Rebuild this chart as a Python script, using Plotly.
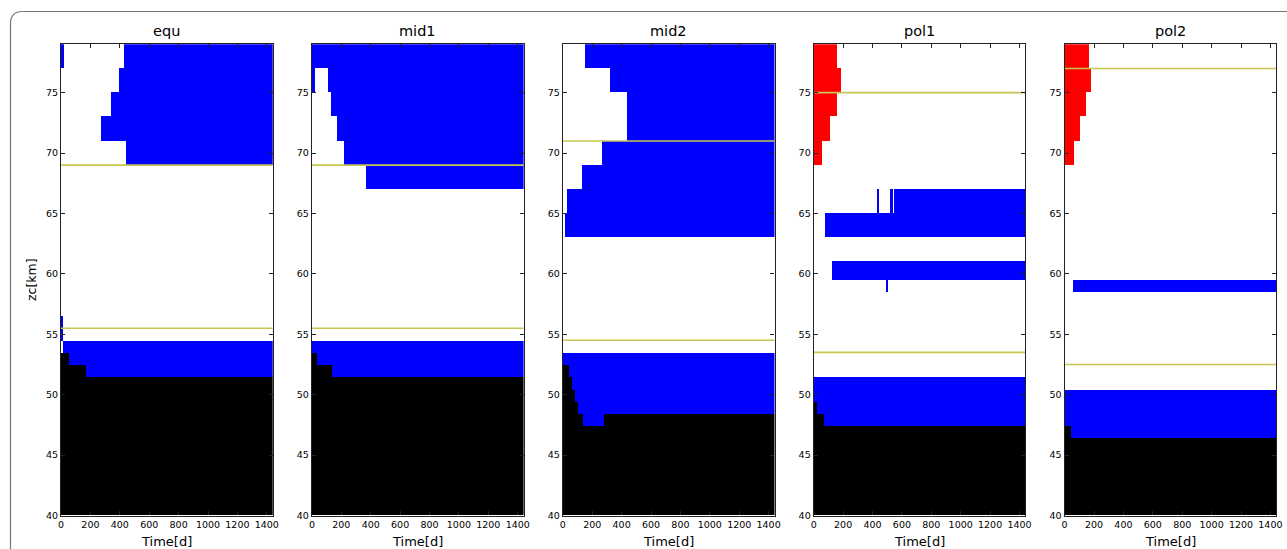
import plotly.graph_objects as go

W, H = 1287, 549

panel_names = ["equ", "mid1", "mid2", "pol1", "pol2"]

# Segments: (zc_bottom [km], zc_top [km], t_start [d], t_end [d])
equ_blue = [(77, 79, 0, 20), (77, 79, 430, 1440), (75, 77, 397, 1440), (73, 75, 342, 1440),
            (71, 73, 272, 1440), (69, 71, 442, 1440), (54.4, 56.5, 0, 13),
            (53.4, 54.4, 13, 1440), (52.4, 53.4, 52, 1440), (51.4, 52.4, 170, 1440)]
equ_black = [(40, 51.4, 0, 1440), (51.4, 52.4, 0, 170), (52.4, 53.4, 0, 52)]
equ_red = []
equ_lines = [69.0, 55.5]

mid1_blue = [(77, 79, 0, 1440), (75, 77, 0, 23), (75, 77, 112, 1440), (73, 75, 130, 1440),
             (71, 73, 167, 1440), (69, 71, 221, 1440), (67, 69, 365, 1440),
             (53.4, 54.4, 0, 1440), (52.4, 53.4, 34, 1440), (51.4, 52.4, 139, 1440)]
mid1_black = [(40, 51.4, 0, 1440), (51.4, 52.4, 0, 139), (52.4, 53.4, 0, 34)]
mid1_red = []
mid1_lines = [69.0, 55.5]

mid2_blue = [(77, 79, 148, 1440), (75, 77, 319, 1440), (71, 75, 435, 1440), (69, 71, 264, 1440),
             (67, 69, 128, 1440), (65, 67, 25, 1440), (63, 65, 12, 1440),
             (52.4, 53.4, 0, 1440), (51.4, 52.4, 39, 1440), (50.4, 51.4, 60, 1440),
             (49.4, 50.4, 80, 1440), (48.4, 49.4, 101, 1440), (47.4, 48.4, 134, 278)]
mid2_black = [(40, 47.4, 0, 1440), (47.4, 48.4, 0, 134), (47.4, 48.4, 278, 1440),
              (48.4, 49.4, 0, 101), (49.4, 50.4, 0, 80), (50.4, 51.4, 0, 60),
              (51.4, 52.4, 0, 39)]
mid2_red = []
mid2_lines = [71.0, 54.5]

pol1_red = [(77, 79, 0, 157), (75, 77, 0, 184), (73, 75, 0, 157), (71, 73, 0, 109), (69, 71, 0, 55)]
pol1_blue = [(65, 67, 430, 437), (65, 67, 519, 535), (65, 67, 545, 1440), (63, 65, 75, 1440),
             (59.45, 61, 123, 1440), (58.45, 59.45, 491, 498),
             (49.4, 51.4, 0, 1440), (48.4, 49.4, 20, 1440), (47.4, 48.4, 68, 1440)]
pol1_black = [(40, 47.4, 0, 1440), (47.4, 48.4, 0, 68), (48.4, 49.4, 0, 20)]
pol1_lines = [75.0, 53.5]

pol2_red = [(77, 79, 0, 166), (75, 77, 0, 180), (73, 75, 0, 146), (71, 73, 0, 105), (69, 71, 0, 64)]
pol2_blue = [(58.45, 59.45, 57, 1440), (47.4, 50.4, 0, 1440), (46.4, 47.4, 43, 1440)]
pol2_black = [(40, 46.4, 0, 1440), (46.4, 47.4, 0, 43)]
pol2_lines = [77.0, 52.5]

panel_data = [
    (equ_blue, equ_black, equ_red, equ_lines),
    (mid1_blue, mid1_black, mid1_red, mid1_lines),
    (mid2_blue, mid2_black, mid2_red, mid2_lines),
    (pol1_blue, pol1_black, pol1_red, pol1_lines),
    (pol2_blue, pol2_black, pol2_red, pol2_lines),
]

x_ticks = [0, 200, 400, 600, 800, 1000, 1200, 1400]
y_ticks = [40, 45, 50, 55, 60, 65, 70, 75]
x_range = [0, 1440]
y_range = [40, 79]

# layout geometry (pixels)
left0, step, pw = 61.0, 250.9, 211.7
top_px, bot_px = 44.3, 515.5

fig = go.Figure()


def seg_bar(segs, color, xa, ya):
    return go.Bar(
        orientation="h",
        y=[(s[0] + s[1]) / 2 for s in segs],
        x=[s[3] - s[2] for s in segs],
        base=[s[2] for s in segs],
        width=[s[1] - s[0] for s in segs],
        marker=dict(color=color, line=dict(width=0)),
        xaxis=xa, yaxis=ya, showlegend=False, hoverinfo="skip",
    )


annotations = []
for i, (name, (blue, black, red, lines)) in enumerate(zip(panel_names, panel_data)):
    k = "" if i == 0 else str(i + 1)
    xa, ya = "x" + k, "y" + k
    for segs, col in ((black, "#000000"), (blue, "#0000ff"), (red, "#ff0000")):
        if segs:
            fig.add_trace(seg_bar(segs, col, xa, ya))
    for lv in lines:
        fig.add_trace(go.Scatter(x=x_range, y=[lv, lv], mode="lines",
                                 line=dict(color="#c6c650", width=1.6),
                                 xaxis=xa, yaxis=ya, showlegend=False, hoverinfo="skip"))
    x0 = left0 + i * step
    dom = [x0 / W, (x0 + pw) / W]
    axis_common = dict(showline=True, linecolor="#222222", linewidth=1.2, mirror="ticks",
                       ticks="inside", ticklen=4, tickcolor="#222222", tickwidth=1,
                       showgrid=False, zeroline=False, automargin=False,
                       tickfont=dict(family="DejaVu Sans", size=9.5, color="black"))
    fig.update_layout(**{
        "xaxis" + k: dict(domain=dom, range=x_range, tickvals=x_ticks, anchor=ya, **axis_common),
        "yaxis" + k: dict(domain=[1 - bot_px / H, 1 - top_px / H], range=y_range,
                          tickvals=y_ticks, anchor=xa, **axis_common),
    })
    cx = (dom[0] + dom[1]) / 2
    annotations.append(dict(text=name, x=cx, y=1 - 31 / H, xref="paper", yref="paper",
                            xanchor="center", yanchor="middle", showarrow=False,
                            font=dict(family="DejaVu Sans", size=14.5, color="black")))
    annotations.append(dict(text="Time[d]", x=cx, y=1 - 541 / H, xref="paper", yref="paper",
                            xanchor="center", yanchor="middle", showarrow=False,
                            font=dict(family="DejaVu Sans", size=13, color="black")))

annotations.append(dict(text="zc[km]", x=31 / W, y=1 - 280 / H, xref="paper", yref="paper",
                        xanchor="center", yanchor="middle", textangle=-90, showarrow=False,
                        font=dict(family="DejaVu Sans", size=12.5, color="black")))

# rounded frame around the figure
fx, fy, r = 10.5 / W, 1 - 11.5 / H, 12
rx, ry = r / W, r / H
frame_path = (f"M {fx},{-0.1} L {fx},{fy - ry} Q {fx},{fy} {fx + rx},{fy} L {1.1},{fy}")

fig.update_layout(
    width=W, height=H,
    margin=dict(l=0, r=0, t=0, b=0),
    paper_bgcolor="white", plot_bgcolor="white",
    barmode="overlay", bargap=0,
    annotations=annotations,
    shapes=[dict(type="path", path=frame_path, xref="paper", yref="paper",
                 line=dict(color="#777777", width=1.2))],
    font=dict(family="DejaVu Sans"),
)

fig.write_html("out.html")
